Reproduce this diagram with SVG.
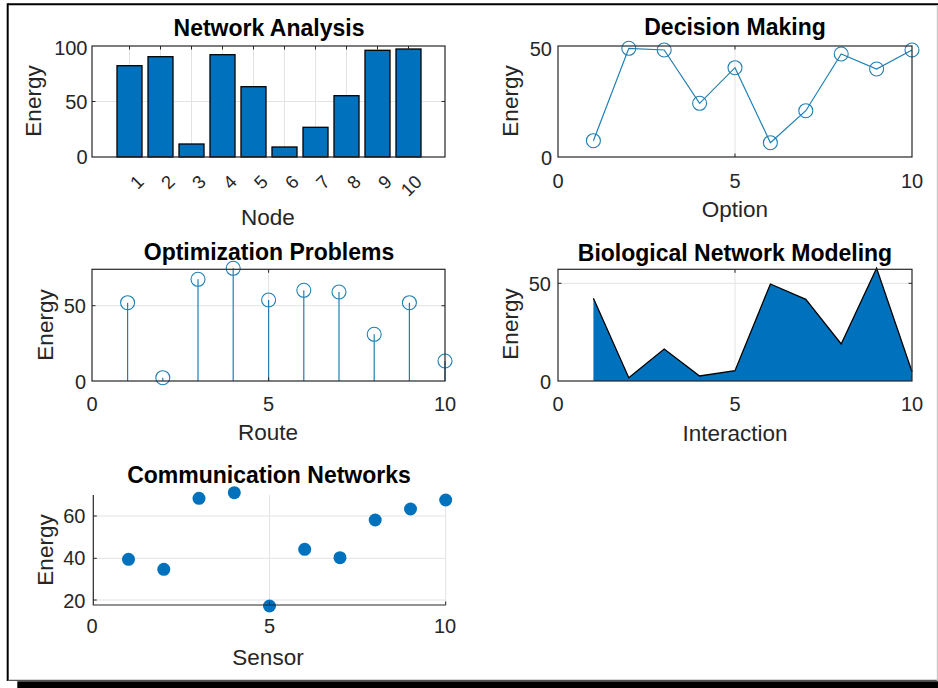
<svg xmlns="http://www.w3.org/2000/svg" width="938" height="688" viewBox="0 0 938 688">
<style>
text{font-family:"Liberation Sans",Arial,sans-serif;fill:#262626}
.t{font-size:23px;font-weight:bold;fill:#000;text-anchor:middle}
.lab{font-size:22.5px;text-anchor:middle}
.tk{font-size:20px}
.tx{text-anchor:middle}
.ty{text-anchor:end}
.rot{font-size:18.5px;text-anchor:end}
.box{fill:none;stroke:#262626;stroke-width:1.2}
.ax{stroke:#262626;stroke-width:1.2;fill:none}
.grid{stroke:#e3e3e3;stroke-width:1;fill:none}
.tick{stroke:#262626;stroke-width:1}
.bar{fill:#0072BD;stroke:#000;stroke-width:1.3}
.ln{fill:none;stroke:#1f7fb5;stroke-width:1.2}
.mk{fill:none;stroke:#1f7fb5;stroke-width:1.1}
.dot{fill:#0072BD}
</style>
<rect x="0" y="0" width="938" height="688" fill="#fff"/>
<g id="frame">
<line x1="7.7" y1="4.3" x2="938" y2="4.3" stroke="#000" stroke-width="2"/>
<line x1="7.7" y1="3.3" x2="7.7" y2="681" stroke="#000" stroke-width="2"/>
<line x1="7.7" y1="680.3" x2="938" y2="680.3" stroke="#555" stroke-width="1.2"/>
<line x1="937.4" y1="5" x2="937.4" y2="681" stroke="#c8c8c8" stroke-width="1.2"/>
<rect x="17.3" y="681.3" width="921" height="7" fill="#000"/>
</g>

<g id="network-analysis">
<g class="grid">
<line x1="129.5" y1="46" x2="129.5" y2="157"/><line x1="160.5" y1="46" x2="160.5" y2="157"/><line x1="191.5" y1="46" x2="191.5" y2="157"/><line x1="222.5" y1="46" x2="222.5" y2="157"/><line x1="253.5" y1="46" x2="253.5" y2="157"/><line x1="284.5" y1="46" x2="284.5" y2="157"/><line x1="315.5" y1="46" x2="315.5" y2="157"/><line x1="346.5" y1="46" x2="346.5" y2="157"/><line x1="377.5" y1="46" x2="377.5" y2="157"/><line x1="408.5" y1="46" x2="408.5" y2="157"/>
<line x1="92" y1="101.5" x2="445" y2="101.5"/>
</g>
<rect class="bar" x="117" y="65.7" width="25" height="91.3"/>
<rect class="bar" x="148" y="56.7" width="25" height="100.3"/>
<rect class="bar" x="179" y="144" width="25" height="13"/>
<rect class="bar" x="210" y="54.7" width="25" height="102.3"/>
<rect class="bar" x="241" y="86.7" width="25" height="70.3"/>
<rect class="bar" x="272" y="147" width="25" height="10"/>
<rect class="bar" x="303" y="127.3" width="25" height="29.7"/>
<rect class="bar" x="334" y="95.7" width="25" height="61.3"/>
<rect class="bar" x="365" y="50.3" width="25" height="106.7"/>
<rect class="bar" x="396" y="49" width="25" height="108"/>
<rect class="box" x="92" y="46" width="353" height="111"/>
<g class="tick">
<line x1="129.5" y1="46" x2="129.5" y2="49.5"/><line x1="160.5" y1="46" x2="160.5" y2="49.5"/><line x1="191.5" y1="46" x2="191.5" y2="49.5"/><line x1="222.5" y1="46" x2="222.5" y2="49.5"/><line x1="253.5" y1="46" x2="253.5" y2="49.5"/><line x1="284.5" y1="46" x2="284.5" y2="49.5"/><line x1="315.5" y1="46" x2="315.5" y2="49.5"/><line x1="346.5" y1="46" x2="346.5" y2="49.5"/><line x1="377.5" y1="46" x2="377.5" y2="49.5"/><line x1="408.5" y1="46" x2="408.5" y2="49.5"/>
<line x1="92" y1="101.5" x2="95.5" y2="101.5"/><line x1="445" y1="101.5" x2="441.5" y2="101.5"/>
</g>
<text class="tk ty" x="87.5" y="55">100</text>
<text class="tk ty" x="87.5" y="108.5">50</text>
<text class="tk ty" x="87.5" y="164">0</text>
<g>
<text class="rot" transform="translate(145,183) rotate(-45)">1</text>
<text class="rot" transform="translate(176,183) rotate(-45)">2</text>
<text class="rot" transform="translate(207,183) rotate(-45)">3</text>
<text class="rot" transform="translate(238,183) rotate(-45)">4</text>
<text class="rot" transform="translate(269,183) rotate(-45)">5</text>
<text class="rot" transform="translate(300,183) rotate(-45)">6</text>
<text class="rot" transform="translate(331,183) rotate(-45)">7</text>
<text class="rot" transform="translate(362,183) rotate(-45)">8</text>
<text class="rot" transform="translate(393,183) rotate(-45)">9</text>
<text class="rot" transform="translate(423,183) rotate(-45)">10</text>
</g>
<text class="lab" x="268" y="225">Node</text>
<text class="lab" transform="translate(41,101) rotate(-90)">Energy</text>
<text class="t" x="269" y="36">Network Analysis</text>
</g>

<g id="decision-making">
<line class="grid" x1="735" y1="46" x2="735" y2="157"/>
<polyline class="ln" points="593.4,140.7 628.8,48.3 664.2,50 699.6,103.3 735,67.7 770.4,142.7 805.8,110.7 841.2,54 876.6,69 912,50"/>
<g class="mk">
<circle cx="593.4" cy="140.7" r="7"/><circle cx="628.8" cy="48.3" r="7"/><circle cx="664.2" cy="50" r="7"/><circle cx="699.6" cy="103.3" r="7"/><circle cx="735" cy="67.7" r="7"/><circle cx="770.4" cy="142.7" r="7"/><circle cx="805.8" cy="110.7" r="7"/><circle cx="841.2" cy="54" r="7"/><circle cx="876.6" cy="69" r="7"/><circle cx="912" cy="50" r="7"/>
</g>
<rect class="box" x="558" y="46" width="354" height="111"/>
<g class="tick"><line x1="735" y1="46" x2="735" y2="49.5"/><line x1="735" y1="157" x2="735" y2="153.5"/></g>
<text class="tk ty" x="552" y="56">50</text>
<text class="tk ty" x="552" y="165">0</text>
<text class="tk tx" x="558" y="188">0</text>
<text class="tk tx" x="735" y="188">5</text>
<text class="tk tx" x="912" y="188">10</text>
<text class="lab" x="735" y="217">Option</text>
<text class="lab" transform="translate(518,101) rotate(-90)">Energy</text>
<text class="t" x="735" y="35">Decision Making</text>
</g>

<g id="optimization-problems">
<g class="grid"><line x1="268.6" y1="269" x2="268.6" y2="381"/><line x1="92" y1="305.7" x2="445" y2="305.7"/></g>
<g class="ln">
<line x1="127.6" y1="381" x2="127.6" y2="302.7"/><line x1="162.8" y1="381" x2="162.8" y2="377.7"/><line x1="198" y1="381" x2="198" y2="279.3"/><line x1="233.2" y1="381" x2="233.2" y2="268.3"/><line x1="268.6" y1="381" x2="268.6" y2="300"/><line x1="303.8" y1="381" x2="303.8" y2="290.3"/><line x1="339" y1="381" x2="339" y2="292"/><line x1="374.2" y1="381" x2="374.2" y2="334.3"/><line x1="409.4" y1="381" x2="409.4" y2="302.7"/><line x1="445" y1="381" x2="445" y2="361"/>
</g>
<g class="mk">
<circle cx="127.6" cy="302.7" r="7"/><circle cx="162.8" cy="377.7" r="7"/><circle cx="198" cy="279.3" r="7"/><circle cx="233.2" cy="268.3" r="7"/><circle cx="268.6" cy="300" r="7"/><circle cx="303.8" cy="290.3" r="7"/><circle cx="339" cy="292" r="7"/><circle cx="374.2" cy="334.3" r="7"/><circle cx="409.4" cy="302.7" r="7"/><circle cx="445" cy="361" r="7"/>
</g>
<rect class="box" x="92" y="269.3" width="353" height="111.7"/>
<g class="tick"><line x1="268.6" y1="269.3" x2="268.6" y2="272.8"/><line x1="268.6" y1="381" x2="268.6" y2="377.5"/><line x1="92" y1="305.7" x2="95.5" y2="305.7"/><line x1="445" y1="305.7" x2="441.5" y2="305.7"/></g>
<text class="tk ty" x="86" y="312.5">50</text>
<text class="tk ty" x="86" y="389">0</text>
<text class="tk tx" x="92" y="410.5">0</text>
<text class="tk tx" x="268.6" y="410.5">5</text>
<text class="tk tx" x="445" y="410.5">10</text>
<text class="lab" x="268" y="440">Route</text>
<text class="lab" transform="translate(53,325) rotate(-90)">Energy</text>
<text class="t" x="269" y="260">Optimization Problems</text>
</g>

<g id="biological-network-modeling">
<g class="grid"><line x1="735" y1="269" x2="735" y2="381"/><line x1="558" y1="283.3" x2="912" y2="283.3"/></g>
<polygon fill="#0072BD" points="593.4,381 593.4,298.3 628.8,377.7 664.2,349 699.6,376 735,370.7 770.4,284 805.8,299.3 841.2,344 876.6,268.3 912,371.7 912,381"/>
<polyline fill="none" stroke="#000" stroke-width="1.3" points="593.4,298.3 628.8,377.7 664.2,349 699.6,376 735,370.7 770.4,284 805.8,299.3 841.2,344 876.6,268.3 912,371.7"/>
<rect class="box" x="558" y="269.3" width="354" height="111.7"/>
<g class="tick"><line x1="735" y1="269.3" x2="735" y2="272.8"/><line x1="558" y1="283.3" x2="561.5" y2="283.3"/><line x1="912" y1="283.3" x2="908.5" y2="283.3"/></g>
<text class="tk ty" x="551" y="290.5">50</text>
<text class="tk ty" x="551" y="389">0</text>
<text class="tk tx" x="558" y="410.5">0</text>
<text class="tk tx" x="735" y="410.5">5</text>
<text class="tk tx" x="912" y="410.5">10</text>
<text class="lab" x="735" y="441">Interaction</text>
<text class="lab" transform="translate(518,324) rotate(-90)">Energy</text>
<text class="t" x="735" y="261">Biological Network Modeling</text>
</g>

<g id="communication-networks">
<g class="grid">
<line x1="93.3" y1="516" x2="445.7" y2="516"/><line x1="93.3" y1="558.3" x2="445.7" y2="558.3"/><line x1="93.3" y1="600" x2="445.7" y2="600"/>
<line x1="269.5" y1="495" x2="269.5" y2="605"/><line x1="445.7" y1="495" x2="445.7" y2="605"/>
</g>
<g class="dot">
<circle cx="128.5" cy="559.3" r="6.5"/><circle cx="163.8" cy="569.3" r="6.5"/><circle cx="199" cy="498.3" r="6.5"/><circle cx="234.3" cy="492.7" r="6.5"/><circle cx="269.5" cy="606" r="6.5"/><circle cx="304.7" cy="549.3" r="6.5"/><circle cx="340" cy="557.7" r="6.5"/><circle cx="375.2" cy="520" r="6.5"/><circle cx="410.5" cy="509" r="6.5"/><circle cx="445.7" cy="500" r="6.5"/>
</g>
<polyline class="ax" points="93.3,495 93.3,605 445.7,605"/>
<g class="tick"><line x1="93.3" y1="516" x2="96.8" y2="516"/><line x1="93.3" y1="558.3" x2="96.8" y2="558.3"/><line x1="93.3" y1="600" x2="96.8" y2="600"/><line x1="269.5" y1="605" x2="269.5" y2="601.5"/><line x1="445.7" y1="605" x2="445.7" y2="601.5"/></g>
<text class="tk ty" x="85.5" y="523">60</text>
<text class="tk ty" x="85.5" y="565">40</text>
<text class="tk ty" x="85.5" y="608">20</text>
<text class="tk tx" x="92" y="633">0</text>
<text class="tk tx" x="269.5" y="633">5</text>
<text class="tk tx" x="445" y="633">10</text>
<text class="lab" x="268" y="665">Sensor</text>
<text class="lab" transform="translate(53,550) rotate(-90)">Energy</text>
<text class="t" x="269" y="483">Communication Networks</text>
</g>
</svg>
